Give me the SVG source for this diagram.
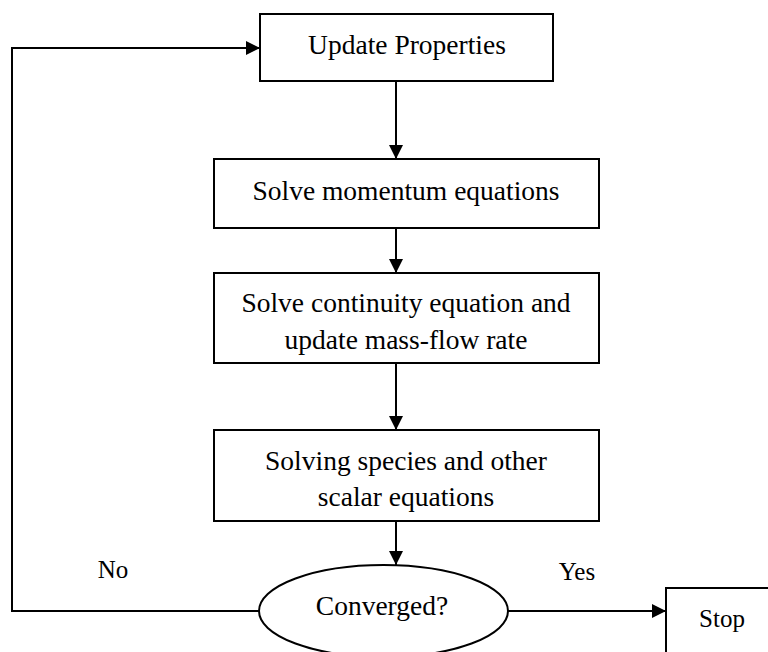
<svg xmlns="http://www.w3.org/2000/svg" width="768" height="652" viewBox="0 0 768 652">
<style>
.box{fill:#fff;stroke:#000;stroke-width:2}
.t{font-family:"Liberation Serif","Times New Roman",serif;font-size:27.5px;fill:#000;text-anchor:middle}
.s{font-family:"Liberation Serif","Times New Roman",serif;font-size:25px;fill:#000;text-anchor:middle}
.c{fill:none;stroke:#000;stroke-width:2}
</style>
<defs>
<marker id="arr" markerUnits="userSpaceOnUse" markerWidth="14" markerHeight="14" viewBox="0 0 14 14" refX="14" refY="7" orient="auto">
<path d="M0,0 L14,7 L0,14 Z" fill="#000"/>
</marker>
</defs>
<rect width="768" height="652" fill="#fff"/>
<g id="connectors">
<line class="c" x1="396" y1="81" x2="396" y2="159" marker-end="url(#arr)"/>
<line class="c" x1="396" y1="228" x2="396" y2="273" marker-end="url(#arr)"/>
<line class="c" x1="396" y1="363" x2="396" y2="430" marker-end="url(#arr)"/>
<line class="c" x1="396" y1="521" x2="396" y2="565" marker-end="url(#arr)"/>
<line class="c" x1="508" y1="611" x2="666" y2="611" marker-end="url(#arr)"/>
<polyline class="c" points="259,611 12,611 12,48 260,48" marker-end="url(#arr)"/>
<text class="s" x="113" y="578">No</text>
<text class="s" x="577" y="580">Yes</text>
</g>
<g id="update">
<rect class="box" x="260" y="14" width="293" height="67"/>
<text class="t" x="407" y="54">Update Properties</text>
</g>
<g id="momentum">
<rect class="box" x="214" y="159" width="385" height="69"/>
<text class="t" x="406" y="200">Solve momentum equations</text>
</g>
<g id="continuity">
<rect class="box" x="214" y="273" width="385" height="90"/>
<text class="t" x="406" y="312">Solve continuity equation and</text>
<text class="t" x="406" y="349">update mass-flow rate</text>
</g>
<g id="species">
<rect class="box" x="214" y="430" width="385" height="91"/>
<text class="t" x="406" y="470">Solving species and other</text>
<text class="t" x="406" y="506">scalar equations</text>
</g>
<g id="converged">
<ellipse class="box" cx="383.5" cy="611" rx="124.5" ry="46"/>
<text class="t" x="382" y="615">Converged?</text>
</g>
<g id="stop">
<rect class="box" x="666" y="588" width="110" height="80"/>
<text class="s" x="722" y="627">Stop</text>
</g>
</svg>
